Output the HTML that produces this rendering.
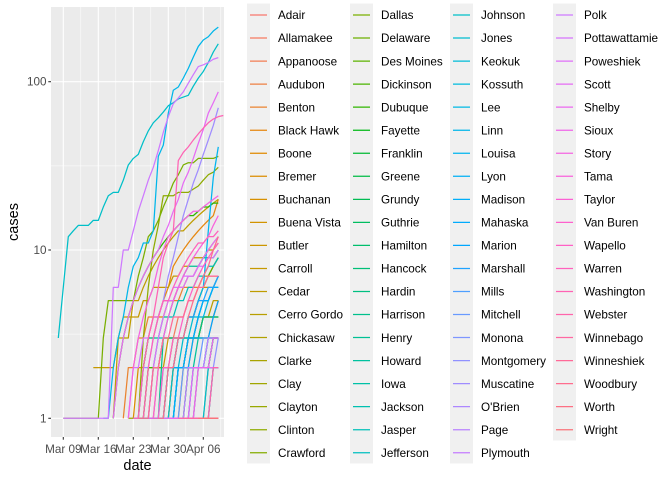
<!DOCTYPE html>
<html><head><meta charset="utf-8">
<style>
html,body{margin:0;padding:0;background:#fff;}
svg{display:block;font-family:"Liberation Sans",Arial,sans-serif;}
</style></head>
<body>
<svg id="chart" width="672" height="480" viewBox="0 0 672 480" xmlns="http://www.w3.org/2000/svg">
  <rect x="0" y="0" width="672" height="480" fill="#fff"/>
  <rect x="51" y="7" width="173" height="430" fill="#EBEBEB"/>
  <g id="grid"></g>
  <g id="series"></g>
  <g id="axes"></g>
  <text x="137.5" y="470" font-size="14.5" text-anchor="middle" fill="#000">date</text>
  <text x="0" y="0" font-size="14.5" text-anchor="middle" fill="#000" transform="translate(18,222) rotate(-90)">cases</text>
  <g id="legend"></g>
</svg>
<script>
const counties = ["Adair","Allamakee","Appanoose","Audubon","Benton","Black Hawk","Boone","Bremer","Buchanan","Buena Vista","Butler","Carroll","Cedar","Cerro Gordo","Chickasaw","Clarke","Clay","Clayton","Clinton","Crawford",
"Dallas","Delaware","Des Moines","Dickinson","Dubuque","Fayette","Franklin","Greene","Grundy","Guthrie","Hamilton","Hancock","Hardin","Harrison","Henry","Howard","Iowa","Jackson","Jasper","Jefferson",
"Johnson","Jones","Keokuk","Kossuth","Lee","Linn","Louisa","Lyon","Madison","Mahaska","Marion","Marshall","Mills","Mitchell","Monona","Montgomery","Muscatine","O'Brien","Page","Plymouth",
"Polk","Pottawattamie","Poweshiek","Scott","Shelby","Sioux","Story","Tama","Taylor","Van Buren","Wapello","Warren","Washington","Webster","Winnebago","Winneshiek","Woodbury","Worth","Wright"];
// day index 0 = Mar 08
const startDay = [28,17,18,22,13,16,20,15,19,24,19,7,11,20,21,25,22,14,16,27,
1,26,20,17,11,23,21,28,22,24,19,27,20,16,15,21,23,24,17,21,
0,19,24,22,22,9,19,25,18,23,22,21,23,20,22,26,15,25,26,23,
1,14,18,11,21,22,14,18,26,28,19,17,15,25,24,16,20,29,28];
const cases = [
[1,1,1,1,1],
[1,1,2,2,3,3,3,4,4,5,5,6,7,7,7,7],
[1,1,1,1,1,2,2,2,2,3,3,3,3,4,5],
[1,1,1,1,1,1,1,1,1,1,1],
[1,2,2,3,3,4,4,4,5,5,5,5,6,6,6,6,7,7,8,9],
[1,2,3,4,4,5,6,8,9,10,11,12,13,14,15,16,20],
[1,1,1,2,2,2,3,3,4,4,4,4,5],
[1,2,2,3,3,4,4,5,5,6,6,7,7,8,9,10,11,12],
[1,1,1,2,2,2,2,3,3,3,4,4,4,4],
[1,1,1,1,1,1,1,1,1],
[1,2,2,3,3,3,3,4,4,5,6,6,6,7],
[2,2,2,2,2,3,4,4,4,4,5,5,6,6,6,6,7,7,8,8,9,9,9,10,10,11],
[1,3,3,3,5,5,6,7,8,9,10,11,12,13,13,14,15,16,17,18,19,20],
[1,1,1,2,2,2,3,3,3,4,4,5,5],
[1,1,1,1,2,2,2,2,2,2,2,2],
[1,1,1,1,1,2,2,2],
[1,1,1,1,1,1,1,1,1,1,1],
[1,1,1,1,2,2,2,2,2,3,3,3,3,3,3,3,3,3,3],
[1,3,6,10,14,21,21,21,22,22,22,23,24,26,28,29,31],
[1,1,1,1,2,2],
[1,1,1,1,1,1,1,1,3,5,5,5,5,5,5,7,9,12,13,15,18,21,25,28,32,33,33,35,35,35,35,36],
[1,1,1,1,1,1,1],
[1,1,2,2,3,3,4,4,5,6,7,8,9],
[1,2,2,2,3,3,3,3,3,3,3,3,4,4,4,4],
[1,2,3,4,5,6,7,8,9,10,11,12,13,14,15,16,16,17,18,18,19,19],
[1,1,1,1,1,1,1,1,1,1],
[1,1,1,1,1,1,1,2,2,2,2,2],
[1,1,1,1,1],
[1,1,1,1,2,2,2,2,2,3,3],
[1,1,2,2,2,2,2,3,3],
[1,1,1,1,1,2,2,2,2,2,2,3,3,3],
[1,1,1,1,1,1],
[1,1,1,1,1,1,1,1,1,1,1,1,1],
[1,1,1,1,1,3,3,3,3,3,3,3,3,4,4,4,4],
[1,1,2,3,3,3,4,4,5,6,7,8,8,8,9,9,9,10],
[1,1,1,2,2,2,2,3,3,3,3,3],
[1,2,2,3,3,4,5,5,6,7],
[1,1,1,2,2,2,2,3,3],
[1,1,2,3,3,4,4,5,5,6,6,7,7,8,8,9],
[1,1,1,1,1,1,1,1,1,1,1,1],
[3,6,12,13,14,14,14,15,15,18,21,22,22,26,32,35,37,44,51,57,61,66,72,75,79,81,83,94,105,115,130,150,168],
[1,1,1,1,2,2,3,3,4,4,5,5,6,6],
[1,1,1,1,1,1,2,2,2],
[1,1,1,1,1,1,1,1,1,2,2],
[1,1,2,2,3,3,4,4,5,6,7],
[1,1,2,3,4,6,8,9,11,11,13,36,42,65,89,93,105,120,140,162,177,185,200,211],
[1,1,2,2,2,3,3,4,4,5,6,13,27,41],
[1,1,1,1,1,1,1,1],
[1,1,1,1,2,2,2,2,2,3,3,3,3,3,3],
[1,2,2,3,3,4,5,5,6,6],
[1,1,1,1,1,2,2,2,3,4,5],
[1,2,2,3,3,4,4,5,5,6,6,7],
[1,1,1,1,1,1,1,1,2,2],
[1,1,1,1,1,2,2,2,2,3,3,3,3],
[1,1,1,1,1,1,1,1,1,1,1],
[1,1,2,2,2,2,3],
[1,1,2,2,3,4,5,7,9,12,16,20,25,30,37,45,55,70],
[1,1,1,1,1,1,1,1],
[1,1,1,1,1,1,1],
[1,1,1,2,2,2,2,3,3,3],
[1,1,1,1,1,1,1,1,1,1,6,6,10,10,13,17,21,26,31,39,50,62,74,80,87,98,110,123,126,130,136,139],
[1,2,2,3,3,4,4,5,5,6,6,7,7,7,8,8,9,9,10],
[1,2,3,4,5,5,6,6,7,7,8,9,10,11,12],
[1,2,3,4,5,6,7,8,9,10,12,14,17,20,25,29,35,43,52,65,75,87],
[1,1,1,1,1,1,2,2,2,2,2,2],
[1,1,1,1,1,1,2,2,2,3,3],
[1,2,3,4,5,6,8,10,12,13,14,15,16,17,17,18,19,20,21],
[1,1,2,3,4,5,6,7,8,9,10,11,12,14,16],
[1,1,1,1,1,1,1],
[1,1,1,1,1],
[1,1,2,2,3,3,4,5,6,7,8,9,10,11],
[1,2,3,4,5,5,6,7,8,9,10,11,11,12,12,13],
[1,1,2,3,4,6,9,11,13,34,38,41,45,49,53,57,60,62,63],
[1,1,1,1,1,1,2,2],
[1,1,1,1,1,1,1,1,1],
[1,1,1,2,2,3,3,4,4,4,5,5,6,6,7,7,7],
[1,1,2,2,3,3,4,5,6,7,8,10,12],
[1,1,1,1],
[1,1,1,1,1]
];
const xTickDays = [1,8,15,22,29];
const xTickLabels = ["Mar 09","Mar 16","Mar 23","Mar 30","Apr 06"];
const yTickValues = [1,10,100];
const yTickLabels = ["1","10","100"];
const yMinorValues = [3.1623,31.623];
const xMinorDays = [-2.5,4.5,11.5,18.5,25.5,32.5];

const NS = "http://www.w3.org/2000/svg";
const PX0 = 51, PX1 = 224, PY0 = 7, PY1 = 437;
function xScale(d){ return 58.3 + 5*d; }
function yScale(v){ return 418.3 - 168.3*Math.log10(v); }
function mk(tag, attrs, parent){
  const e = document.createElementNS(NS, tag);
  for (const k in attrs) e.setAttribute(k, attrs[k]);
  parent.appendChild(e);
  return e;
}
function hcl(h){
  const L=65, C=100, hr=h*Math.PI/180;
  const u=C*Math.cos(hr), v=C*Math.sin(hr);
  const Xn=95.047,Yn=100,Zn=108.883;
  const den=Xn+15*Yn+3*Zn, un=4*Xn/den, vn=9*Yn/den;
  const Y=Yn*Math.pow((L+16)/116,3);
  const up=u/(13*L)+un, vp=v/(13*L)+vn;
  const X=Y*9*up/(4*vp), Z=Y*(12-3*up-20*vp)/(4*vp);
  const x=X/100,y=Y/100,z=Z/100;
  let rgb=[3.2406*x-1.5372*y-0.4986*z, -0.9689*x+1.8758*y+0.0415*z, 0.0557*x-0.2040*y+1.0570*z];
  rgb=rgb.map(c=>{c=c<=0.0031308?12.92*c:1.055*Math.pow(c,1/2.4)-0.055;return Math.round(Math.max(0,Math.min(1,c))*255);});
  return "rgb("+rgb.join(",")+")";
}
const n = counties.length;
const colors = counties.map((c,i)=>hcl(15+360*i/n));

// grid
const grid = document.getElementById("grid");
yMinorValues.forEach(v=>{
  const l = mk("line",{x1:PX0,x2:PX1,y1:yScale(v),y2:yScale(v),stroke:"#fff","stroke-width":0.55},grid);
  
  
});
xMinorDays.forEach(d=>{
  const x=xScale(d); if(x<PX0||x>PX1) return;
  const l = mk("line",{x1:x,x2:x,y1:PY0,y2:PY1,stroke:"#fff","stroke-width":0.55},grid);
  
  
});
yTickValues.forEach(v=>{
  const l = mk("line",{x1:PX0,x2:PX1,y1:yScale(v),y2:yScale(v),stroke:"#fff","stroke-width":1.1},grid);
  
  
});
xTickDays.forEach(d=>{
  const l = mk("line",{x1:xScale(d),x2:xScale(d),y1:PY0,y2:PY1,stroke:"#fff","stroke-width":1.1},grid);
  
  
});

// series
const sg = document.getElementById("series");
counties.forEach((name,i)=>{
  const vals = cases[i], s = startDay[i];
  const pts = vals.map((v,k)=>xScale(s+k).toFixed(2)+","+yScale(v).toFixed(2)).join(" ");
  const p = mk("polyline",{points:pts,fill:"none",stroke:colors[i],"stroke-width":1.25,"stroke-linejoin":"round"},sg);
  
  
});

// axes
const ax = document.getElementById("axes");
yTickValues.forEach((v,i)=>{
  const y=yScale(v);
  const t = mk("line",{x1:PX0-2.7,x2:PX0,y1:y,y2:y,stroke:"#333","stroke-width":1.1},ax);
  
  
  const lb = mk("text",{x:PX0-4.5,y:y+4,"font-size":11.7,"text-anchor":"end",fill:"#4D4D4D"},ax);
  lb.textContent = yTickLabels[i];
  
  
});
xTickDays.forEach((d,i)=>{
  const x=xScale(d);
  const t = mk("line",{x1:x,x2:x,y1:PY1,y2:PY1+2.7,stroke:"#333","stroke-width":1.1},ax);
  
  
  const lb = mk("text",{x:x,y:PY1+16,"font-size":11.7,"text-anchor":"middle",fill:"#4D4D4D"},ax);
  lb.textContent = xTickLabels[i];
  
  
});

// legend
const lg = document.getElementById("legend");
const colX = [247,350,450,553];
const perCol = 20;
for(let c=0;c<4;c++){
  const cnt = Math.min(perCol, n-c*perCol);
  const bg = mk("rect",{x:colX[c],y:3.5,width:23,height:cnt*23,fill:"#F0F0F0"},lg);
  
  
}
counties.forEach((name,i)=>{
  const c=Math.floor(i/perCol), r=i%perCol;
  const x=colX[c], y=15+r*23.04;
  const g = mk("g",{},lg);
  
  
  const l = mk("line",{x1:x+3,x2:x+20,y1:y,y2:y,stroke:colors[i],"stroke-width":1.25},g);
  
  
  const t = mk("text",{x:x+31,y:y+4.2,"font-size":11.7,fill:"#000"},g);
  t.textContent = name;
  
  
});
</script>
</body></html>
